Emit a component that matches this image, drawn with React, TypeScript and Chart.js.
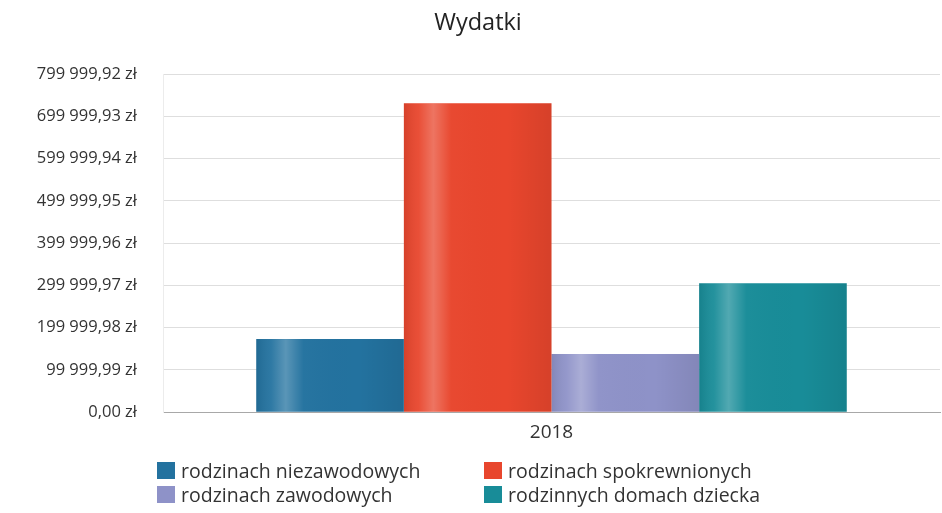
import React, { useEffect, useRef } from "react";
import { Chart, registerables } from "chart.js";

Chart.register(...registerables);

const titleText = "Wydatki";
const categories = ["2018"];
const seriesNames = [
  "rodzinach niezawodowych",
  "rodzinach spokrewnionych",
  "rodzinach zawodowych",
  "rodzinnych domach dziecka",
];
const niezawodowych = [173000];
const spokrewnionych = [731000];
const zawodowych = [138000];
const domachDziecka = [305000];
const seriesColors = ["#23729f", "#e8462d", "#8e92c8", "#188c98"];
const yTickValues = [0, 99999.99, 199999.98, 299999.97, 399999.96, 499999.95, 599999.94, 699999.93, 799999.92];
const yTickLabels = [
  "0,00 zł",
  "99 999,99 zł",
  "199 999,98 zł",
  "299 999,97 zł",
  "399 999,96 zł",
  "499 999,95 zł",
  "599 999,94 zł",
  "699 999,93 zł",
  "799 999,92 zł",
];

const FONT = "'Open Sans', 'DejaVu Sans', sans-serif";

const shadePlugin = {
  id: "barShade",
  afterDatasetsDraw(chart: any) {
    const ctx = chart.ctx;
    chart.data.datasets.forEach((_: any, di: number) => {
      const meta = chart.getDatasetMeta(di);
      meta.data.forEach((el: any) => {
        const p = el.getProps(["x", "y", "base", "width"], true);
        const left = p.x - p.width / 2;
        const right = p.x + p.width / 2;
        const g = ctx.createLinearGradient(left, 0, right, 0);
        g.addColorStop(0, "rgba(0,0,0,0.08)");
        g.addColorStop(0.1, "rgba(255,255,255,0.05)");
        g.addColorStop(0.2, "rgba(255,255,255,0.25)");
        g.addColorStop(0.32, "rgba(255,255,255,0.02)");
        g.addColorStop(0.7, "rgba(0,0,0,0.0)");
        g.addColorStop(1, "rgba(0,0,0,0.08)");
        ctx.save();
        ctx.fillStyle = g;
        ctx.fillRect(left, Math.min(p.y, p.base), p.width, Math.abs(p.base - p.y));
        ctx.restore();
      });
    });
  },
};

export default function App() {
  const canvasRef = useRef<HTMLCanvasElement | null>(null);

  useEffect(() => {
    document.body.style.margin = "0";
    const canvas = canvasRef.current;
    if (!canvas) return;
    const seriesValues = [niezawodowych, spokrewnionych, zawodowych, domachDziecka];
    const chart = new Chart(canvas, {
      type: "bar",
      data: {
        labels: categories,
        datasets: seriesNames.map((name, i) => ({
          label: name,
          data: seriesValues[i],
          backgroundColor: seriesColors[i],
          borderWidth: 0,
          barPercentage: 1,
          categoryPercentage: 0.76,
        })),
      },
      options: {
        responsive: false,
        animation: false,
        layout: { padding: { left: 16, right: 2, top: 0, bottom: 60 } },
        plugins: {
          legend: { display: false },
          tooltip: { enabled: false },
          title: {
            display: true,
            text: titleText,
            color: "#222",
            font: { family: FONT, size: 23.5, weight: "normal" },
            padding: { top: 9, bottom: 37 },
          },
        },
        scales: {
          x: {
            grid: { display: false, drawTicks: false },
            border: { display: true, color: "#a8a8a8", width: 1 },
            ticks: { color: "#333", font: { family: FONT, size: 19 }, padding: 9 },
          },
          y: {
            min: 0,
            max: yTickValues[yTickValues.length - 1],
            afterBuildTicks: (scale: any) => {
              scale.ticks = yTickValues.map((v) => ({ value: v }));
            },
            afterFit: (scale: any) => {
              scale.width = 147;
            },
            grid: { color: "#dedede", drawTicks: false },
            border: { display: true, color: "#ececec" },
            ticks: {
              color: "#333",
              font: { family: FONT, size: 16.5 },
              padding: 26,
              callback: (_v: any, index: number) => yTickLabels[index],
            },
          },
        },
      },
      plugins: [shadePlugin],
    } as any);
    return () => chart.destroy();
  }, []);

  return (
    <div style={{ position: "relative", width: 942, height: 513, background: "#fff" }}>
      <canvas ref={canvasRef} width={942} height={513} style={{ display: "block", width: 942, height: 513 }} />
      {seriesNames.map((name, i) => {
        const col = i % 2;
        const row = Math.floor(i / 2);
        return (
          <div
            key={name}
            style={{
              position: "absolute",
              left: col === 0 ? 157 : 484,
              top: 462 + row * 24,
              height: 17,
              display: "flex",
              alignItems: "center",
              fontFamily: FONT,
              fontSize: 19.5,
              color: "#333",
              whiteSpace: "nowrap",
            }}
          >
            <span style={{ display: "inline-block", width: 18, height: 17, background: seriesColors[i], marginRight: 6 }} />
            <span style={{ lineHeight: "17px" }}>{name}</span>
          </div>
        );
      })}
    </div>
  );
}
